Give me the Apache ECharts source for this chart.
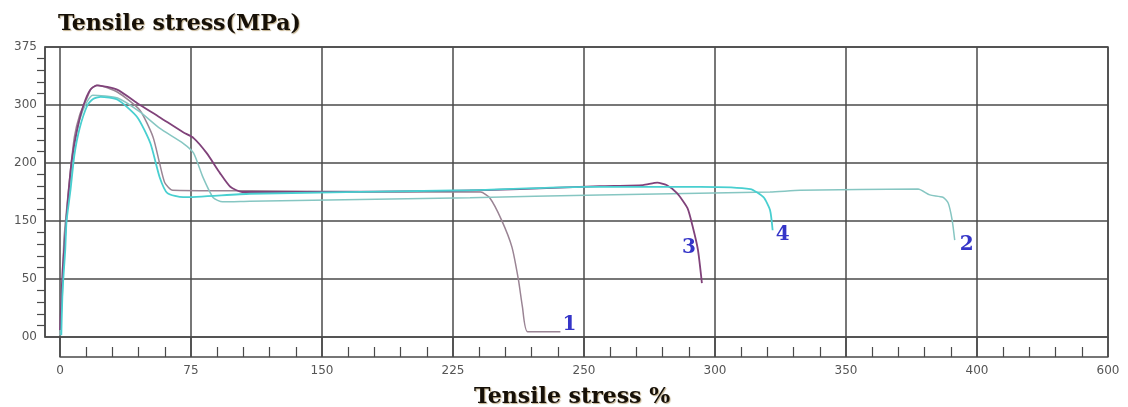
<!DOCTYPE html>
<html>
<head>
<meta charset="utf-8">
<title>Tensile stress</title>
<script src="https://cdn.jsdelivr.net/npm/echarts@6/dist/echarts.min.js"></script>
<style>
  html, body { margin: 0; padding: 0; background: #fff; }
  #main { width: 1128px; height: 407px; }
</style>
</head>
<body>
<div id="main"></div>
<script>
// tick labels, one per grid line (the axis itself runs on grid index 0..8 / 0..5)
var xLabels = ['0', '75', '150', '225', '250', '300', '350', '400', '600'];
var yLabels = ['00', '50', '150', '200', '300', '375'];

var curveNames = ['1', '2', '3', '4'];

// [x, y] in grid units
var curve1 = [
  [0.00, 0.03], [0.01, 0.64], [0.02, 1.00], [0.03, 1.67], [0.05, 2.19], [0.08, 2.88],
  [0.11, 3.45], [0.15, 3.83], [0.20, 4.09], [0.24, 4.29], [0.29, 4.34], [0.44, 4.22],
  [0.61, 3.91], [0.71, 3.45], [0.76, 3.00], [0.80, 2.66], [0.86, 2.53], [1.45, 2.52],
  [2.60, 2.50], [3.21, 2.50], [3.28, 2.40], [3.37, 2.02], [3.45, 1.55], [3.50, 0.98],
  [3.53, 0.52], [3.57, 0.09], [3.82, 0.09]
];
var curve2 = [
  [0.00, 0.03], [0.02, 0.81], [0.03, 1.50], [0.05, 2.10], [0.08, 2.71], [0.11, 3.31],
  [0.15, 3.74], [0.20, 4.03], [0.25, 4.17], [0.44, 4.12], [0.61, 3.88], [0.76, 3.60],
  [0.94, 3.34], [1.02, 3.17], [1.09, 2.76], [1.17, 2.40], [1.24, 2.33], [1.45, 2.34],
  [3.13, 2.40], [4.12, 2.45], [5.42, 2.50], [5.65, 2.53], [6.55, 2.55], [6.64, 2.45],
  [6.74, 2.41], [6.78, 2.31], [6.81, 2.02], [6.83, 1.67]
];
var curve3 = [
  [0.00, 0.12], [0.01, 0.64], [0.02, 1.16], [0.04, 1.76], [0.06, 2.36], [0.09, 3.05],
  [0.13, 3.57], [0.18, 4.00], [0.23, 4.26], [0.28, 4.34], [0.44, 4.26], [0.59, 4.03],
  [0.76, 3.79], [0.94, 3.53], [1.02, 3.43], [1.12, 3.17], [1.22, 2.83], [1.30, 2.59],
  [1.39, 2.50], [1.83, 2.50], [2.98, 2.52], [3.51, 2.55], [4.12, 2.60], [4.45, 2.62],
  [4.56, 2.66], [4.63, 2.62], [4.71, 2.48], [4.79, 2.22], [4.83, 1.90], [4.87, 1.50],
  [4.90, 0.93]
];
var curve4 = [
  [0.01, 0.03], [0.02, 0.81], [0.04, 1.50], [0.05, 2.00], [0.08, 2.53], [0.11, 3.14],
  [0.15, 3.60], [0.21, 4.00], [0.25, 4.10], [0.31, 4.14], [0.44, 4.09], [0.59, 3.79],
  [0.69, 3.34], [0.76, 2.76], [0.82, 2.48], [0.94, 2.41], [1.45, 2.47], [3.13, 2.53],
  [4.01, 2.59], [4.89, 2.59], [5.27, 2.55], [5.37, 2.41], [5.42, 2.19], [5.44, 1.84]
];

var GRID_COLOR = '#4a4a4a';
var TITLE_STYLE = {
  fontFamily: 'DejaVu Serif',
  fontWeight: 'bold',
  fontSize: 22,
  color: '#161008',
  textShadowColor: 'rgba(120,80,0,0.45)',
  textShadowOffsetX: 1,
  textShadowOffsetY: 1,
  textShadowBlur: 1
};
var TICK_LABEL = { margin: 8, color: '#555', fontFamily: 'DejaVu Sans', fontSize: 12 };

function makeSeries(name, data, color, width, offset) {
  return {
    name: name,
    type: 'line',
    xAxisIndex: 1,
    yAxisIndex: 1,
    data: data,
    showSymbol: false,
    smooth: 0.2,
    lineStyle: { color: color, width: width },
    endLabel: {
      show: true,
      formatter: '{a}',
      distance: 0,
      offset: offset,
      color: '#3535c8',
      fontFamily: 'DejaVu Serif',
      fontWeight: 'bold',
      fontSize: 20
    },
    silent: true
  };
}

function init() {
  var option = {
    animation: false,
    backgroundColor: '#fff',
    title: [
      { text: 'Tensile stress(MPa)', left: 53, top: 8, textStyle: TITLE_STYLE },
      { text: 'Tensile stress %', left: 469, top: 381, textStyle: TITLE_STYLE }
    ],
    grid: [
      // the framed box with the y axis
      { left: 45, right: 20, top: 47, bottom: 70, show: true, borderColor: GRID_COLOR, borderWidth: 1.5 },
      // the x axis that sits below the box, its grid lines run through the box
      { left: 60, right: 20, top: 47, bottom: 50 }
    ],
    xAxis: [
      { gridIndex: 0, type: 'value', min: 0, max: 1, show: false },
      {
        gridIndex: 1,
        type: 'value',
        min: 0,
        max: 8,
        interval: 1,
        axisLine: { show: true, onZero: false, lineStyle: { color: GRID_COLOR, width: 1.5 } },
        axisTick: { show: true, inside: true, length: 20, lineStyle: { color: GRID_COLOR, width: 1.5 } },
        minorTick: { show: true, splitNumber: 5, length: 10, lineStyle: { color: GRID_COLOR, width: 1.2 } },
        splitLine: { show: true, lineStyle: { color: GRID_COLOR, width: 1.5 } },
        axisLabel: Object.assign({
          formatter: function (v) { return xLabels[Math.round(v)]; }
        }, TICK_LABEL)
      }
    ],
    yAxis: [
      {
        gridIndex: 0,
        type: 'value',
        min: 0,
        max: 5,
        interval: 1,
        axisLine: { show: true, lineStyle: { color: GRID_COLOR, width: 1.5 } },
        axisTick: { show: false },
        minorTick: { show: true, splitNumber: 5, length: 8, lineStyle: { color: GRID_COLOR, width: 1.2 } },
        splitLine: { show: true, lineStyle: { color: GRID_COLOR, width: 1.5 } },
        axisLabel: Object.assign({
          formatter: function (v) { return yLabels[Math.round(v)]; }
        }, TICK_LABEL)
      },
      // 20px below the "00" line is the lower x axis
      { gridIndex: 1, type: 'value', min: -20 / 58, max: 5, show: false }
    ],
    series: [
      makeSeries(curveNames[0], curve1, '#9a8494', 1.5, [2, -7]),
      makeSeries(curveNames[1], curve2, '#86c6c2', 1.5, [5, 5]),
      makeSeries(curveNames[2], curve3, '#80427a', 1.8, [-20, -35]),
      makeSeries(curveNames[3], curve4, '#48cfd0', 1.8, [3, 5])
    ]
  };

  var chart = echarts.init(document.getElementById('main'));
  chart.setOption(option);
}

init();
</script>
</body>
</html>
